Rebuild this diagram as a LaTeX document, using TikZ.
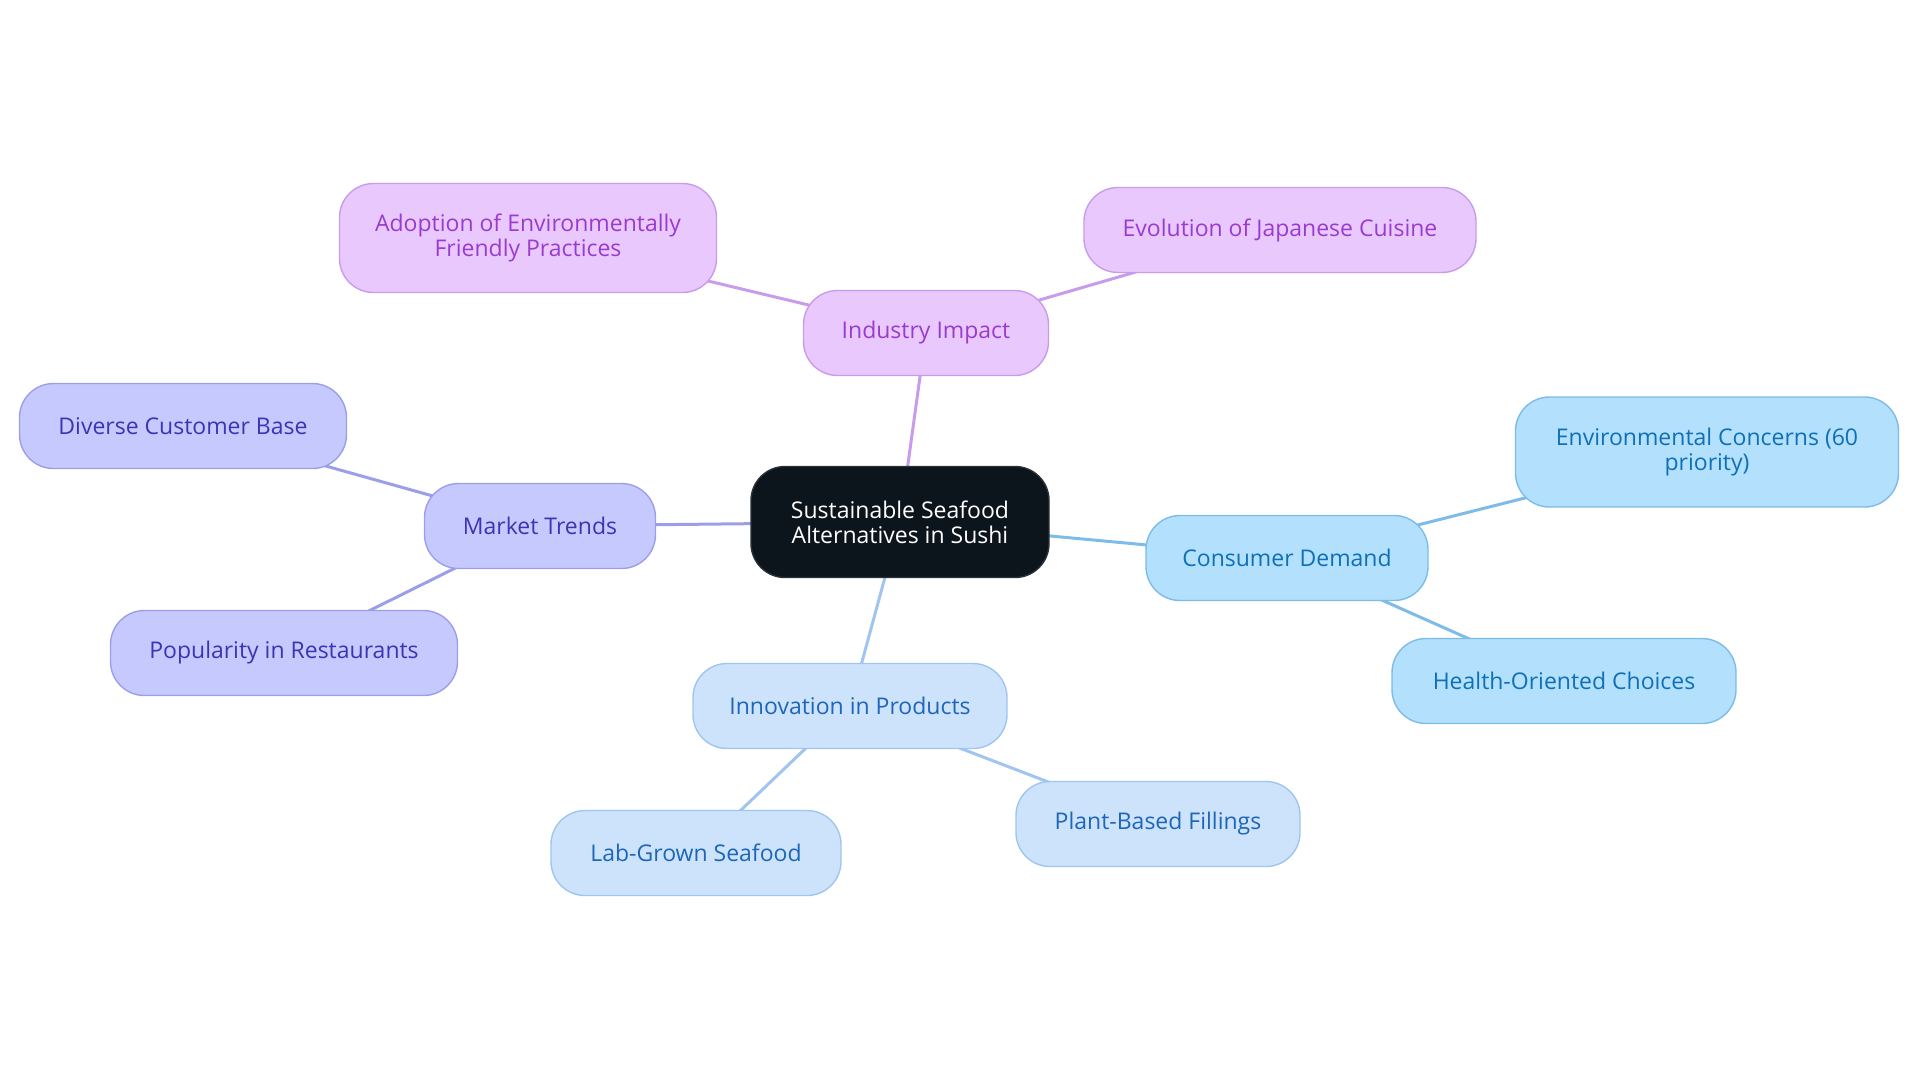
\documentclass[tikz,border=0pt]{standalone}
\usepackage{fontspec}
\setmainfont{Open Sans}
\usetikzlibrary{backgrounds}
\definecolor{rootfill}{HTML}{0D151C}
\definecolor{rootline}{HTML}{2A3138}
\definecolor{purfill}{HTML}{E9C9FD}
\definecolor{purline}{HTML}{C99BEB}
\definecolor{purtext}{HTML}{9A3BD0}
\definecolor{vioFill}{HTML}{C6C9FD}
\definecolor{violine}{HTML}{9C9EEA}
\definecolor{viotext}{HTML}{3B35B5}
\definecolor{skyfill}{HTML}{B3E0FC}
\definecolor{skyline}{HTML}{7DBCE8}
\definecolor{skytext}{HTML}{0F70B8}
\definecolor{paleFill}{HTML}{CDE3FB}
\definecolor{paleline}{HTML}{A0C5EE}
\definecolor{paletext}{HTML}{1D66B8}

\begin{document}
\begin{tikzpicture}[x=0.5pt, y=-0.5pt,
    topic/.style={rectangle, rounded corners=17pt, line width=0.7pt, align=center,
        minimum height=42.5pt, inner sep=2pt, font=\fontsize{11.5}{12.5}\selectfont},
    root/.style={topic, fill=rootfill, draw=rootline, text=white},
    purnode/.style={topic, fill=purfill, draw=purline, text=purtext},
    vionode/.style={topic, fill=vioFill, draw=violine, text=viotext},
    skynode/.style={topic, fill=skyfill, draw=skyline, text=skytext},
    palenode/.style={topic, fill=paleFill, draw=paleline, text=paletext},
    link/.style={line width=1.5pt}]
    \useasboundingbox (0,0) rectangle (1920,1083);

    % Central topic
    \node[root, minimum width=149pt, minimum height=55.5pt] (sushi) at (900,522)
        {Sustainable Seafood\\Alternatives in Sushi};

    % Industry impact branch
    \node[purnode, minimum width=122.5pt] (industry) at (926,333) {Industry Impact};
    \node[purnode, minimum width=188.5pt, minimum height=54.5pt] (adoption) at (528,238)
        {Adoption of Environmentally\\Friendly Practices};
    \node[purnode, minimum width=196pt] (evolution) at (1280,230) {Evolution of Japanese Cuisine};

    % Market trends branch
    \node[vionode, minimum width=115.5pt] (market) at (540,526) {Market Trends};
    \node[vionode, minimum width=163.5pt] (diverse) at (183,426) {Diverse Customer Base};
    \node[vionode, minimum width=173.5pt] (popular) at (284,653) {Popularity in Restaurants};

    % Consumer demand branch
    \node[skynode, minimum width=141pt] (demand) at (1287,558) {Consumer Demand};
    \node[skynode, minimum width=191.5pt, minimum height=55pt] (environ) at (1707,452)
        {Environmental Concerns (60\\priority)};
    \node[skynode, minimum width=172pt] (health) at (1564,681) {Health-Oriented Choices};

    % Innovation branch
    \node[palenode, minimum width=157pt] (innov) at (850,706) {Innovation in Products};
    \node[palenode, minimum width=145pt] (labgrown) at (696,853) {Lab-Grown Seafood};
    \node[palenode, minimum width=142pt] (plant) at (1158,824) {Plant-Based Fillings};

    % Connectors behind the boxes
    \begin{pgfonlayer}{background}
        \draw[link, purline] (sushi.center) -- (industry.center);
        \draw[link, purline] (industry.center) -- (adoption.center);
        \draw[link, purline] (industry.center) -- (evolution.center);
        \draw[link, violine] (sushi.center) -- (market.center);
        \draw[link, violine] (market.center) -- (diverse.center);
        \draw[link, violine] (market.center) -- (popular.center);
        \draw[link, skyline] (sushi.center) -- (demand.center);
        \draw[link, skyline] (demand.center) -- (environ.center);
        \draw[link, skyline] (demand.center) -- (health.center);
        \draw[link, paleline] (sushi.center) -- (innov.center);
        \draw[link, paleline] (innov.center) -- (labgrown.center);
        \draw[link, paleline] (innov.center) -- (plant.center);
    \end{pgfonlayer}
\end{tikzpicture}
\end{document}
